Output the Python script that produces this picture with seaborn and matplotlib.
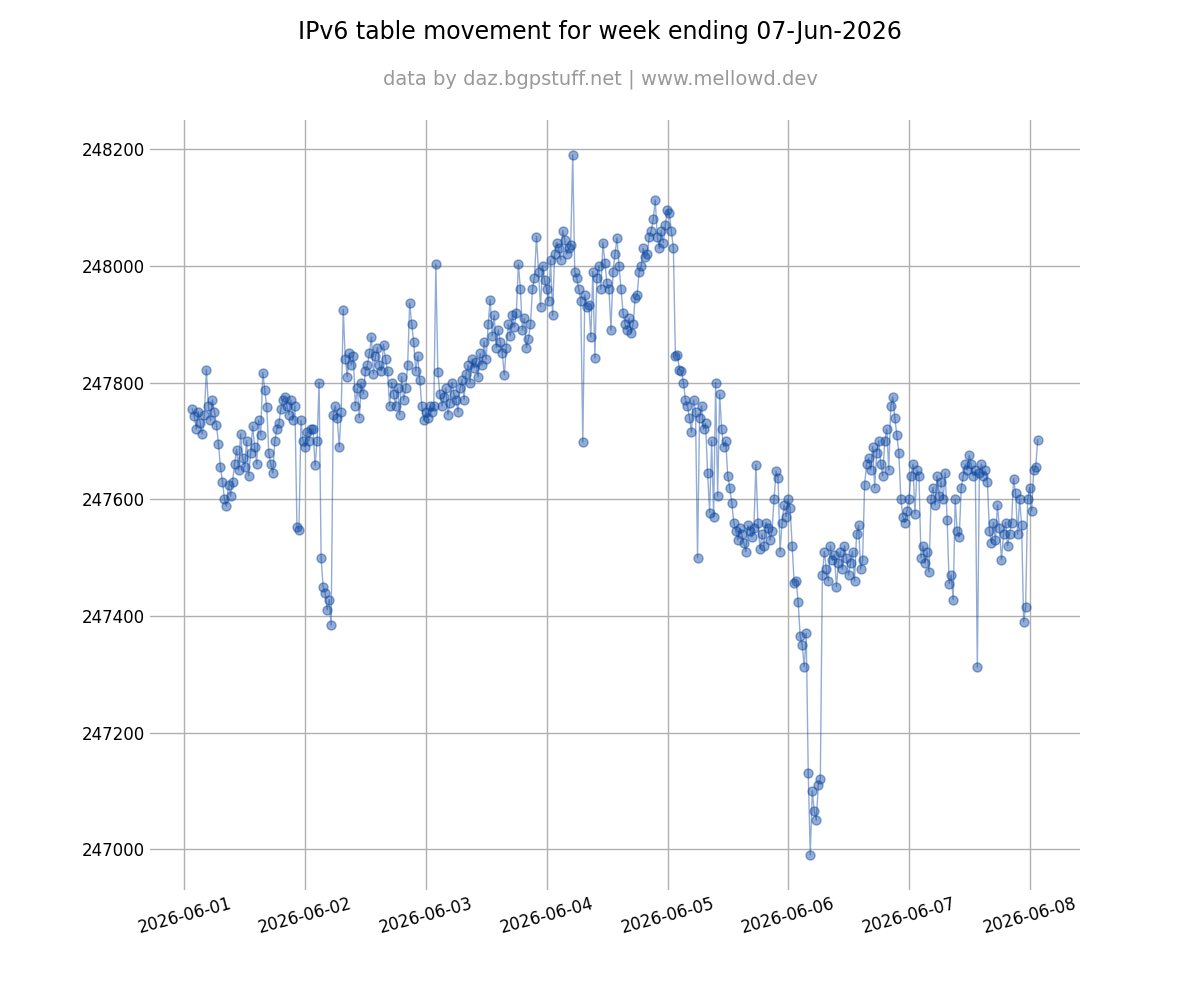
import numpy as np
import pandas as pd
import matplotlib
matplotlib.use("Agg")
import matplotlib.pyplot as plt
import matplotlib.dates as mdates
import seaborn as sns

START = "2026-06-01 01:34"
FREQ = "24min"

day1 = [247755, 247742, 247720, 247750, 247730, 247712, 247745, 247822, 247760, 247735,
        247770, 247750, 247728, 247695, 247655, 247630, 247600, 247588, 247625, 247605,
        247630, 247660, 247685, 247650, 247712, 247670, 247655, 247700, 247640, 247680,
        247725, 247690, 247660, 247735, 247710, 247817, 247787, 247758, 247680, 247660,
        247645, 247700, 247720, 247730, 247755, 247770, 247775, 247760, 247745, 247770,
        247735, 247760, 247552, 247548, 247735, 247700, 247690, 247715, 247700, 247720]
day2 = [247720, 247658, 247700, 247800, 247500, 247450, 247440, 247410, 247428, 247384,
        247745, 247760, 247740, 247690, 247750, 247925, 247840, 247810, 247850, 247830,
        247845, 247760, 247790, 247740, 247800, 247780, 247820, 247830, 247850, 247878,
        247815, 247845, 247860, 247830, 247820, 247865, 247840, 247820, 247760, 247800,
        247780, 247760, 247790, 247745, 247810, 247770, 247790, 247830, 247936, 247900,
        247870, 247820, 247845, 247805, 247760, 247735, 247750, 247740, 247760, 247750]
day3 = [247760, 248003, 247818, 247780, 247760, 247775, 247790, 247745, 247765, 247800,
        247780, 247770, 247750, 247790, 247805, 247770, 247815, 247830, 247800, 247840,
        247825, 247835, 247810, 247850, 247830, 247870, 247840, 247900, 247942, 247880,
        247915, 247860, 247890, 247870, 247850, 247813, 247860, 247900, 247880, 247915,
        247895, 247920, 248003, 247960, 247890, 247910, 247860, 247875, 247900, 247960,
        247980, 248050, 247990, 247930, 248000, 247975, 247960, 247940, 248010, 247915]
day4 = [248020, 248040, 248030, 248010, 248060, 248045, 248020, 248030, 248035, 248190,
        247990, 247980, 247960, 247940, 247698, 247950, 247930, 247933, 247878, 247990,
        247842, 247980, 248000, 247960, 248040, 248005, 247970, 247960, 247890, 247990,
        248020, 248048, 248000, 247960, 247920, 247900, 247890, 247910, 247885, 247900,
        247945, 247950, 247990, 248000, 248030, 248015, 248020, 248050, 248060, 248080,
        248113, 248050, 248030, 248060, 248040, 248070, 248095, 248090, 248060, 248030]
day5 = [247845, 247848, 247822, 247820, 247800, 247770, 247760, 247740, 247715, 247770,
        247750, 247500, 247740, 247760, 247720, 247730, 247645, 247577, 247700, 247570,
        247800, 247605, 247780, 247720, 247690, 247700, 247640, 247620, 247594, 247560,
        247545, 247530, 247550, 247540, 247525, 247510, 247555, 247545, 247535, 247550,
        247659, 247560, 247515, 247540, 247520, 247560, 247550, 247530, 247545, 247600,
        247648, 247637, 247510, 247560, 247590, 247570, 247600, 247585, 247520, 247457]
day6 = [247460, 247423, 247365, 247350, 247313, 247370, 247130, 246990, 247100, 247065,
        247050, 247110, 247120, 247470, 247510, 247480, 247460, 247520, 247495, 247505,
        247450, 247490, 247510, 247480, 247520, 247500, 247470, 247490, 247510, 247460,
        247540, 247555, 247480, 247495, 247625, 247660, 247670, 247650, 247690, 247620,
        247680, 247700, 247660, 247640, 247700, 247720, 247650, 247760, 247775, 247740,
        247710, 247680, 247600, 247570, 247560, 247580, 247600, 247640, 247660, 247575]
day7 = [247650, 247640, 247500, 247520, 247490, 247510, 247475, 247600, 247620, 247590,
        247640, 247605, 247630, 247600, 247645, 247565, 247455, 247470, 247428, 247600,
        247545, 247535, 247620, 247640, 247660, 247650, 247675, 247660, 247640, 247650,
        247312, 247645, 247660, 247640, 247650, 247630, 247545, 247525, 247560, 247530,
        247590, 247550, 247496, 247540, 247560, 247520, 247540, 247560, 247635, 247610,
        247540, 247600, 247555, 247390, 247415, 247600, 247620, 247580, 247650, 247655]
tail = [247702]

TITLE = "IPv6 table movement for week ending 07-Jun-2026"
SUBTITLE = "data by daz.bgpstuff.net | www.mellowd.dev"

values = day1 + day2 + day3 + day4 + day5 + day6 + day7 + tail
times = pd.date_range(START, periods=len(values), freq=FREQ)
df = pd.DataFrame({"time": times, "prefixes": values})

sns.set_theme(style="whitegrid", rc={"grid.color": "#b0b0b0", "grid.linewidth": 1.0})
plt.rcParams["font.family"] = ["DejaVu Sans"]

fig, ax = plt.subplots(figsize=(12, 10), dpi=100)
fig.subplots_adjust(left=0.125, right=0.9, top=0.88, bottom=0.11)
color = "#0d47a1"
sns.lineplot(data=df, x="time", y="prefixes", ax=ax, color=color, alpha=0.45,
             linewidth=1.0, marker="o", markersize=6.5, markeredgecolor=color,
             markerfacecolor=color, markeredgewidth=1.0)

ax.xaxis.set_major_locator(mdates.DayLocator())
ax.xaxis.set_major_formatter(mdates.DateFormatter("%Y-%m-%d"))
ax.yaxis.set_major_locator(matplotlib.ticker.MultipleLocator(200))
for lab in ax.get_xticklabels():
    lab.set_rotation(15)
ax.tick_params(axis="both", labelsize=12, length=0, colors="black")
ax.set_xlabel("")
ax.set_ylabel("")
for s in ax.spines.values():
    s.set_visible(False)
ax.grid(True, color="#b0b0b0")

fig.text(0.5, 0.968, TITLE, ha="center", va="center", fontsize=17, color="black")
fig.text(0.5, 0.921, SUBTITLE, ha="center", va="center", fontsize=14, color="#999999")

fig.savefig("out.png", dpi=100)
